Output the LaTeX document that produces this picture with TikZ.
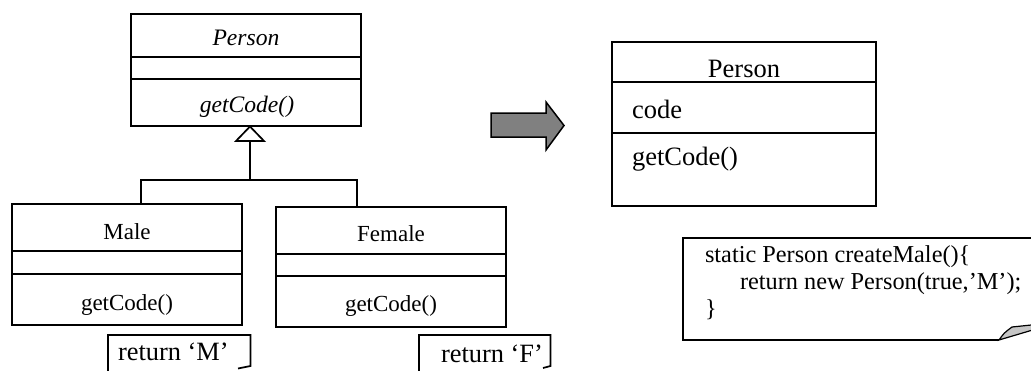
\documentclass[tikz,border=0pt]{standalone}
\usepackage{fontspec}
\setmainfont{Liberation Serif}
\begin{document}
\begin{tikzpicture}[x=1pt,y=-1pt,
  line width=1.7pt, line join=miter,
  box/.style={draw, rectangle, inner sep=0pt, outer sep=0pt, anchor=north west},
  lbl/.style={inner sep=0pt, outer sep=0pt, anchor=base},
  lblw/.style={inner sep=0pt, outer sep=0pt, anchor=base west},
  fsmall/.style={font=\fontsize{23}{27}\selectfont},
  fsmallit/.style={font=\fontsize{23.6}{27}\selectfont\itshape},
  fbig/.style={font=\fontsize{26.5}{30}\selectfont},
  fnote/.style={font=\fontsize{26.4}{30}\selectfont},
  fcode/.style={font=\fontsize{24.3}{28}\selectfont},
]
\useasboundingbox (0,0) rectangle (1031,370);
\clip (0,0) rectangle (1031,370);

% ---- abstract Person class with two subclasses ----
\node[box, minimum width=230pt, minimum height=112pt] (ap) at (131,14) {};
\draw (ap.west |- 0,57) -- (ap.east |- 0,57);
\draw (ap.west |- 0,79) -- (ap.east |- 0,79);
\node[lbl, fsmallit] (apname) at (246,45) {Person};
\node[lbl, fsmallit] (apop) at (247,112) {getCode()};

\node[box, minimum width=230pt, minimum height=121pt] (male) at (12,204) {};
\draw (male.west |- 0,251) -- (male.east |- 0,251);
\draw (male.west |- 0,274) -- (male.east |- 0,274);
\node[lbl, fsmall] (malename) at (127,239) {Male};
\node[lbl, fsmall] (maleop) at (127,310) {getCode()};

\node[box, minimum width=230pt, minimum height=120pt] (female) at (276,207) {};
\draw (female.west |- 0,254) -- (female.east |- 0,254);
\draw (female.west |- 0,276) -- (female.east |- 0,276);
\node[lbl, fsmall] (femalename) at (391,241) {Female};
\node[lbl, fsmall] (femaleop) at (391,311) {getCode()};

% generalization: open triangle, stem and branches
\coordinate (gtip) at (250,126.5);
\coordinate (gbase) at (250,141);
\coordinate (bar) at (250,180);
\coordinate (barl) at (141,180);
\coordinate (barr) at (357,180);
\draw[fill=white] (gtip) -- (236,141) -- (264,141) -- cycle;
\draw (gbase) -- (bar);
\draw (male.north -| barl) -- (barl) -- (barr) -- (female.north -| barr);

% notes under the subclasses (folded corner at the bottom right)
\draw (108,380) -- (108,335) -- (250.5,335) -- (250.5,366) -- (238,368.5);
\node[lblw, fnote] (mnote) at (118,360.5) {return ‘M’};
\draw (419,380) -- (419,335) -- (550.5,335) -- (550.5,366) -- (543,368);
\node[lblw, fnote] (fnotetext) at (441,362) {return ‘F’};

% ---- refactoring arrow ----
\filldraw[fill=gray, line width=1.5pt]
  (491,113) -- (546,113) -- (546,102) -- (564,125.5) -- (546,150)
  -- (546,137) -- (491,137) -- cycle;

% ---- concrete Person class ----
\node[box, minimum width=264pt, minimum height=164pt] (cp) at (612,42) {};
\draw (cp.west |- 0,82) -- (cp.east |- 0,82);
\draw (cp.west |- 0,133) -- (cp.east |- 0,133);
\node[lbl, fbig] (cpname) at (744,77) {Person};
\node[lblw, fbig] (cpattr) at (632,118) {code};
\node[lblw, fbig] (cpop) at (632,165) {getCode()};

% ---- factory method note ----
\draw (999,340) -- (683,340) -- (683,238) -- (1040,238);
\filldraw[fill=gray!45, line width=1.2pt]
  (999,340) .. controls (1004,333) .. (1012,327) -- (1036,324.5)
  -- (1036,329) -- cycle;
\node[lblw, fcode] (c1) at (705,262) {static Person createMale()\{};
\node[lblw, fcode] (c2) at (740,289) {return new Person(true,’M’);};
\node[lblw, fcode] (c3) at (705,316) {\}};
\end{tikzpicture}
\end{document}
